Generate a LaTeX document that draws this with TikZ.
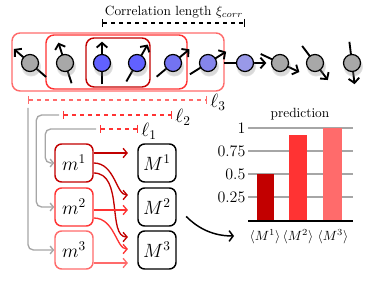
\documentclass[tikz,border=0pt]{standalone}
\usepackage{xcolor}
\usepackage{tikz}
\usetikzlibrary{positioning, calc, arrows.meta, shadows}
\definecolor{DarkRedColor}{rgb}{0.76,0,0}
\definecolor{MidRedColor}{rgb}{1,0.2,0.2}
\definecolor{LightRedColor}{rgb}{1,0.42,0.42}
\definecolor{SpinGray}{rgb}{0.66,0.66,0.66}
\definecolor{SpinBlueA}{rgb}{0.38,0.38,1}
\definecolor{SpinBlueB}{rgb}{0.45,0.45,0.95}
\definecolor{SpinBlueC}{rgb}{0.52,0.52,0.92}
\definecolor{SpinBlueD}{rgb}{0.6,0.6,0.91}
\definecolor{RouteGray}{rgb}{0.65,0.65,0.65}
\tikzset{
    spin/.style={
        circle,
        draw=black,
        line width=0.9pt,
        minimum size=12.75pt,
        inner sep=0pt,
        circular drop shadow={shadow xshift=0.6pt, shadow yshift=-2.2pt, shadow scale=1.2, opacity=0.3}
    },
    spinarrow/.style={line width=1.4pt, -{Straight Barb[length=3.5pt, width=8pt]}},
    corrbox/.style={rounded corners=6pt, line width=1.1pt},
    corrbar/.style={dashed, line width=1pt, {Bar[width=6pt]}-{Bar[width=6pt]}},
    modbox/.style={
        rectangle,
        rounded corners=5pt,
        minimum size=28.5pt,
        inner sep=0pt,
        line width=1.1pt,
        fill=white,
        font=\Large
    },
    lbar/.style={dashed, line width=1.1pt, {Bar[width=6pt]}-{Bar[width=6pt]}},
    route/.style={draw=RouteGray, line width=1pt, rounded corners=4pt, -{Straight Barb[length=2.5pt, width=6pt]}},
    feed/.style={line width=1pt, -{Straight Barb[length=3pt, width=7pt]}, shorten >=7pt},
    gridline/.style={draw=gray!70, line width=1.1pt}
}

\begin{document}
\begin{tikzpicture}[x=0.75pt, y=-0.75pt]
\useasboundingbox (0,0) rectangle (374,281);

% Correlation length
\coordinate (xi_a) at (102,23);
\coordinate (xi_b) at (245,23);
\draw[corrbar] (xi_a) -- (xi_b);
\node (xi_label) at (174,12) {Correlation length $\xi_{corr}$};

% Boxes
\draw[corrbox, draw=LightRedColor] (12,33) rectangle (224,91);
\draw[corrbox, draw=MidRedColor] (46,35) rectangle (187,89);
\draw[corrbox, draw=DarkRedColor] (86,38) rectangle (150,87);

% Spins
\foreach \n/\xx/\ang/\col in {1/30/139/SpinGray, 2/65/108/SpinGray, 3/102/90/SpinBlueA,
    4/137/60/SpinBlueA, 5/173/40/SpinBlueB, 6/208/32/SpinBlueC, 7/245/0/SpinBlueD,
    8/280/-25/SpinGray, 9/315/-53/SpinGray, 10/352/-83/SpinGray}{
    \coordinate (c\n) at (\xx,63);
    \draw[spinarrow] ($(c\n)+(\ang+180:16pt)$) -- ($(c\n)+(\ang:16pt)$);
    \node[spin, fill=\col] (s\n) at (c\n) {};
}

% Length scales
\coordinate (l3a) at (28,100);
\coordinate (l3b) at (207,100);
\draw[lbar, draw=LightRedColor] (l3a) -- (l3b) node[right, yshift=-2pt, inner sep=2pt, font=\Large] (l3) {$\ell_3$};
\coordinate (l2a) at (63,115);
\coordinate (l2b) at (172,115);
\draw[lbar, draw=MidRedColor] (l2a) -- (l2b) node[right, yshift=-2pt, inner sep=2pt, font=\Large] (l2) {$\ell_2$};
\coordinate (l1a) at (100,129);
\coordinate (l1b) at (138,129);
\draw[lbar, draw=MidRedColor] (l1a) -- (l1b) node[right, yshift=-2pt, inner sep=2pt, font=\Large] (l1) {$\ell_1$};

% Models
\node[modbox, draw=DarkRedColor] (m1) at (74,163) {$m^1$};
\node[modbox, draw=MidRedColor] (m2) at (74,207) {$m^2$};
\node[modbox, draw=LightRedColor] (m3) at (74,250) {$m^3$};
\node[modbox, draw=black] (M1) at (157,163) {$M^1$};
\node[modbox, draw=black] (M2) at (157,207) {$M^2$};
\node[modbox, draw=black] (M3) at (157,250) {$M^3$};

% Routing
\draw[route] ($(l1a)+(-4,0)$) -| ($(m1.west)+(-9,0)$) -- (m1.west);
\draw[route] ($(l2a)+(-4,0)$) -| ($(m2.west)+(-18,0)$) -- (m2.west);
\draw[route] ($(l3a)+(0,8)$) |- (m3.west);

% Feeds
\draw[feed, draw=DarkRedColor] ($(m1.east)+(0,-10)$) -- ($(M1.west)+(0,-10)$);
\draw[feed, draw=DarkRedColor] (m1.east) to[out=0, in=180] ($(M2.west)+(0,-12)$);
\draw[feed, draw=DarkRedColor] ($(m1.east)+(0,10)$) to[out=0, in=180] ($(M3.west)+(0,-13)$);
\draw[feed, draw=MidRedColor] ($(m2.east)+(0,3)$) -- ($(M2.west)+(0,3)$);
\draw[feed, draw=MidRedColor] ($(m2.east)+(0,11)$) to[out=0, in=180] ($(M3.west)+(0,-1)$);
\draw[feed, draw=LightRedColor] ($(m3.east)+(0,13)$) -- ($(M3.west)+(0,13)$);

% Prediction
\coordinate (chart_in) at (234,236);
\draw[line width=1.1pt, shorten <=10pt, -{Straight Barb[length=3pt, width=8pt]}] (M2.east) to[out=-45, in=180] (chart_in);
\node (pred) at (300,114) {prediction};
\foreach \yy/\lab [count=\i] in {128/1, 151/0.75, 174/0.5, 197/0.25}{
    \draw[gridline] (248,\yy) -- (353,\yy);
    \node[left, inner sep=1pt, font=\large] (tick\i) at (247,\yy) {\lab};
}
\fill[DarkRedColor] (257,221) rectangle (274,174);
\fill[MidRedColor] (289,221) rectangle (307,135);
\fill[LightRedColor] (323,221) rectangle (342,128);
\draw[line width=1.5pt] (248,221) -- (353,221);
\node (avg1) at (265,237) {$\langle M^1\rangle$};
\node (avg2) at (298,237) {$\langle M^2\rangle$};
\node (avg3) at (333,237) {$\langle M^3\rangle$};

\end{tikzpicture}
\end{document}
